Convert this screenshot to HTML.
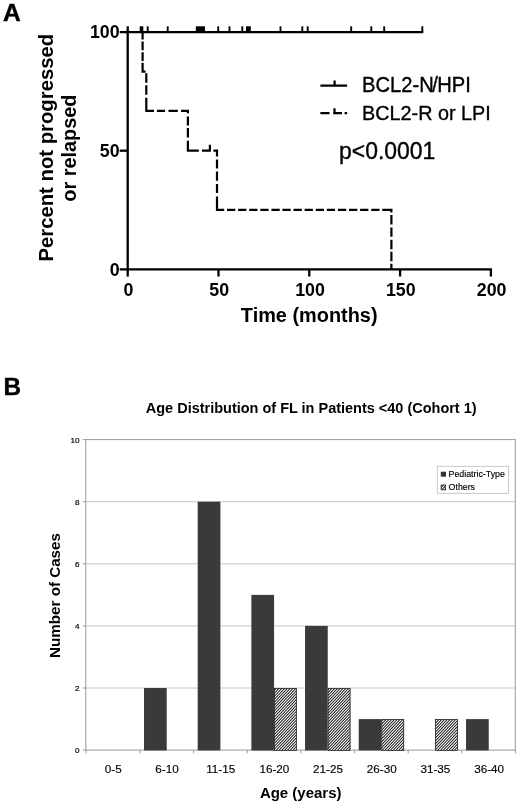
<!DOCTYPE html>
<html><head><meta charset="utf-8"><title>Figure</title>
<style>
html,body{margin:0;padding:0;background:#fff;}
body{width:520px;height:804px;overflow:hidden;}
svg{display:block;}
.soft{filter:blur(0.35px);}
text{font-family:"Liberation Sans",Arial,Helvetica,sans-serif;fill:#000;}
.b{font-weight:bold;}
</style></head><body>
<svg width="520" height="804" viewBox="0 0 520 804">
<defs>
<linearGradient id="hg" gradientUnits="userSpaceOnUse" x1="0" y1="0" x2="1.47" y2="1.39" spreadMethod="repeat">
<stop offset="0.0000" stop-color="#262626"/><stop offset="0.0833" stop-color="#353535"/><stop offset="0.1667" stop-color="#5c5c5c"/><stop offset="0.2500" stop-color="#919191"/><stop offset="0.3333" stop-color="#c7c7c7"/><stop offset="0.4167" stop-color="#eeeeee"/><stop offset="0.5000" stop-color="#fcfcfc"/><stop offset="0.5833" stop-color="#eeeeee"/><stop offset="0.6667" stop-color="#c7c7c7"/><stop offset="0.7500" stop-color="#919191"/><stop offset="0.8333" stop-color="#5c5c5c"/><stop offset="0.9167" stop-color="#353535"/><stop offset="1.0000" stop-color="#262626"/>
</linearGradient>
</defs>
<rect x="0" y="0" width="520" height="804" fill="#fff"/>
<g class="soft">

<text class="b" x="3.1" y="21.1" font-size="24.6" stroke="#000" stroke-width="0.4">A</text>
<g stroke="#000" stroke-width="2.3" fill="none" stroke-linecap="butt">
<path d="M127.7 26.3 V276.6"/>
<path d="M119.7 269.3 H492.0"/>
<path d="M218.5 269.3 V276.5"/>
<path d="M309.3 269.3 V276.5"/>
<path d="M400.1 269.3 V276.5"/>
<path d="M490.9 269.3 V276.5"/>
<path d="M119.7 150.7 H127.7"/>
<path d="M119.7 32.1 H127.7"/>
</g>
<g stroke="#000" fill="none">
<path stroke-width="2.1" d="M127.7 32.1 H423.3"/>
<path stroke-width="1.9" d="M147.7 32.1 V26.3"/>
<path stroke-width="1.9" d="M167.7 32.1 V26.3"/>
<path stroke-width="1.9" d="M218.2 32.1 V26.3"/>
<path stroke-width="1.9" d="M229.5 32.1 V26.3"/>
<path stroke-width="1.9" d="M242.3 32.1 V26.3"/>
<path stroke-width="1.9" d="M280.5 32.1 V26.3"/>
<path stroke-width="1.9" d="M302.3 32.1 V26.3"/>
<path stroke-width="1.9" d="M307.7 32.1 V26.3"/>
<path stroke-width="1.9" d="M351.2 32.1 V26.3"/>
<path stroke-width="1.9" d="M371.3 32.1 V26.3"/>
<path stroke-width="1.9" d="M384.2 32.1 V26.3"/>
<path stroke-width="1.9" d="M422.3 32.1 V26.3"/>
</g>
<rect x="139.7" y="26.3" width="3.6" height="5.4" fill="#000"/>
<rect x="195.8" y="26.3" width="9.2" height="5.4" fill="#000"/>
<rect x="246" y="26.3" width="4.8" height="5.4" fill="#000"/>
<path d="M142.6 33.0 V39.4 M142.6 41.5 V50.2 M142.6 52.2 V61.0 M142.6 62.7 V72.6 M141.5 71.6 H145.6 M146.3 73.2 V82.7 M146.3 85.3 V94.8 M146.3 97.7 V111.9 M145.2 110.8 H154.0 M156.9 110.8 H165.1 M168.5 110.8 H177.8 M181.0 110.8 H189.0 M187.9 110.8 V113.2 M187.9 116.4 V125.4 M187.9 128.0 V137.6 M187.9 140.7 V151.7 M186.8 150.6 H198.8 M201.9 150.6 H210.9 M213.4 150.6 H218.1 M209.9 150.6 V144.8 M217.0 150.6 V156.4 M217.0 159.6 V168.6 M217.0 171.5 V180.7 M217.0 183.9 V192.9 M217.0 196.6 V210.9 M215.9 209.8 H224.2 M227.0 209.8 H235.3 M238.1 209.8 H246.4 M249.2 209.8 H257.5 M260.3 209.8 H268.6 M271.4 209.8 H279.7 M282.4 209.8 H290.7 M293.5 209.8 H301.8 M304.6 209.8 H312.9 M315.7 209.8 H324.0 M326.8 209.8 H335.1 M337.9 209.8 H346.2 M349.0 209.8 H357.3 M360.1 209.8 H368.4 M371.2 209.8 H379.5 M382.2 209.8 H392.5 M391.4 209.8 V212.4 M391.4 214.9 V224.4 M391.4 227.4 V236.8 M391.4 239.8 V249.3 M391.4 251.7 V261.2 M391.4 263.7 V269.3" stroke="#000" stroke-width="2.2" fill="none"/>
<text class="b" transform="translate(128.4 296.2) scale(1 1.04)" font-size="17.8" text-anchor="middle">0</text>
<text class="b" transform="translate(219.2 296.2) scale(1 1.04)" font-size="17.8" text-anchor="middle">50</text>
<text class="b" transform="translate(310.0 296.2) scale(1 1.04)" font-size="17.8" text-anchor="middle">100</text>
<text class="b" transform="translate(400.8 296.2) scale(1 1.04)" font-size="17.8" text-anchor="middle">150</text>
<text class="b" transform="translate(491.6 296.2) scale(1 1.04)" font-size="17.8" text-anchor="middle">200</text>
<text class="b" transform="translate(119.6 275.6) scale(1 1.02)" font-size="17.8" text-anchor="end">0</text>
<text class="b" transform="translate(119.6 157.0) scale(1 1.02)" font-size="17.8" text-anchor="end">50</text>
<text class="b" transform="translate(119.6 38.4) scale(1 1.02)" font-size="17.8" text-anchor="end">100</text>
<text class="b" transform="translate(309.2 322.0) scale(1 0.99)" font-size="19.9" text-anchor="middle">Time (months)</text>
<text class="b" transform="translate(53.4 147.7) rotate(-90) scale(1 0.965)" font-size="20.3" text-anchor="middle">Percent not progressed</text>
<text class="b" transform="translate(76.4 148.1) rotate(-90) scale(1 0.975)" font-size="19.9" text-anchor="middle">or relapsed</text>
<path d="M320.4 85.7 H347.1 M334.6 85.7 V80.4" stroke="#000" stroke-width="2.2" fill="none"/>
<text transform="translate(362.1 92.2) scale(1 1.05)" font-size="20.15" stroke="#000" stroke-width="0.35">BCL2-N<tspan dx="-1.5">/</tspan><tspan dx="-0.6">HPI</tspan></text>
<path d="M320.4 113.2 H329.5 M333.2 113.2 H342 M344.6 113.2 H347.1 M334.5 113.2 V108.3" stroke="#000" stroke-width="2.2" fill="none"/>
<text transform="translate(362.1 119.8) scale(1 1.06)" font-size="19.8" stroke="#000" stroke-width="0.35">BCL2-R or LPI</text>
<text transform="translate(339 159.2) scale(1 1.07)" font-size="22.95" stroke="#000" stroke-width="0.35">p&lt;0.0001</text>
<text class="b" x="3.4" y="394.9" font-size="24.3" stroke="#000" stroke-width="0.4">B</text>
<text class="b" transform="translate(311.2 412.7) scale(1 1.02)" font-size="14.5" text-anchor="middle">Age Distribution of FL in Patients &lt;40 (Cohort 1)</text>
<g stroke="#999" stroke-width="1" fill="none">
<path stroke="#c6c6c6" d="M85.8 688.0 H515.3"/>
<path stroke="#c6c6c6" d="M85.8 625.9 H515.3"/>
<path stroke="#c6c6c6" d="M85.8 563.8 H515.3"/>
<path stroke="#c6c6c6" d="M85.8 501.7 H515.3"/>
<rect x="85.8" y="439.6" width="429.5" height="310.5"/>
<path d="M82.8 750.1 H85.8"/>
<path d="M82.8 688.0 H85.8"/>
<path d="M82.8 625.9 H85.8"/>
<path d="M82.8 563.8 H85.8"/>
<path d="M82.8 501.7 H85.8"/>
<path d="M82.8 439.6 H85.8"/>
<path d="M86.2 750.1 V753.3000000000001"/>
<path d="M139.9 750.1 V753.3000000000001"/>
<path d="M193.6 750.1 V753.3000000000001"/>
<path d="M247.2 750.1 V753.3000000000001"/>
<path d="M300.9 750.1 V753.3000000000001"/>
<path d="M354.6 750.1 V753.3000000000001"/>
<path d="M408.2 750.1 V753.3000000000001"/>
<path d="M461.9 750.1 V753.3000000000001"/>
<path d="M515.6 750.1 V753.3000000000001"/>
</g>
<g font-size="8.1" text-anchor="end" stroke="#000" stroke-width="0.2">
<text x="79.4" y="753.0">0</text>
<text x="79.4" y="690.9">2</text>
<text x="79.4" y="628.8">4</text>
<text x="79.4" y="566.7">6</text>
<text x="79.4" y="504.6">8</text>
<text x="79.4" y="442.5">10</text>
</g>
<g font-size="11.7" text-anchor="middle" stroke="#000" stroke-width="0.15">
<text x="113.3" y="772.8">0-5</text>
<text x="167.0" y="772.8">6-10</text>
<text x="220.7" y="772.8">11-15</text>
<text x="274.4" y="772.8">16-20</text>
<text x="328.0" y="772.8">21-25</text>
<text x="381.7" y="772.8">26-30</text>
<text x="435.4" y="772.8">31-35</text>
<text x="489.1" y="772.8">36-40</text>
</g>
<rect x="144.01" y="688.0" width="22.7" height="62.4" fill="#3a3a3a"/>
<rect x="197.69" y="501.7" width="22.7" height="248.7" fill="#3a3a3a"/>
<rect x="251.37" y="594.9" width="22.7" height="155.6" fill="#3a3a3a"/>
<rect x="305.04" y="625.9" width="22.7" height="124.5" fill="#3a3a3a"/>
<rect x="358.71" y="719.1" width="22.7" height="31.3" fill="#3a3a3a"/>
<rect x="466.06" y="719.1" width="22.7" height="31.3" fill="#3a3a3a"/>
<text class="b" transform="translate(300.7 798.3) scale(1 1.01)" font-size="15" text-anchor="middle">Age (years)</text>
<text class="b" transform="translate(60.2 595.5) rotate(-90) scale(1 1.0)" font-size="15.2" text-anchor="middle">Number of Cases</text>
<rect x="437.3" y="466.3" width="71.2" height="27" fill="#fff" stroke="#bbb" stroke-width="0.8"/>
<rect x="440.8" y="471.7" width="5.2" height="5" fill="#333"/>
<g font-size="8.8" stroke="#000" stroke-width="0.15">
<text x="448.6" y="477">Pediatric-Type</text>
<text x="448.6" y="490">Others</text>
</g>
</g>
<g class="hard">
<rect x="274.06" y="688.10" width="22.70" height="62.30" fill="url(#hg)"/>
<rect x="274.46" y="688.50" width="21.90" height="61.90" fill="none" stroke="#2a2a2a" stroke-width="0.8"/>
<rect x="327.74" y="688.10" width="22.70" height="62.30" fill="url(#hg)"/>
<rect x="328.14" y="688.50" width="21.90" height="61.90" fill="none" stroke="#2a2a2a" stroke-width="0.8"/>
<rect x="381.41" y="719.15" width="22.70" height="31.25" fill="url(#hg)"/>
<rect x="381.81" y="719.55" width="21.90" height="30.85" fill="none" stroke="#2a2a2a" stroke-width="0.8"/>
<rect x="435.09" y="719.15" width="22.70" height="31.25" fill="url(#hg)"/>
<rect x="435.49" y="719.55" width="21.90" height="30.85" fill="none" stroke="#2a2a2a" stroke-width="0.8"/>
<rect x="440.80" y="484.70" width="5.20" height="5.20" fill="url(#hg)"/>
<rect x="441.20" y="485.10" width="4.40" height="4.80" fill="none" stroke="#2a2a2a" stroke-width="0.8"/>
</g>
</svg></body></html>
